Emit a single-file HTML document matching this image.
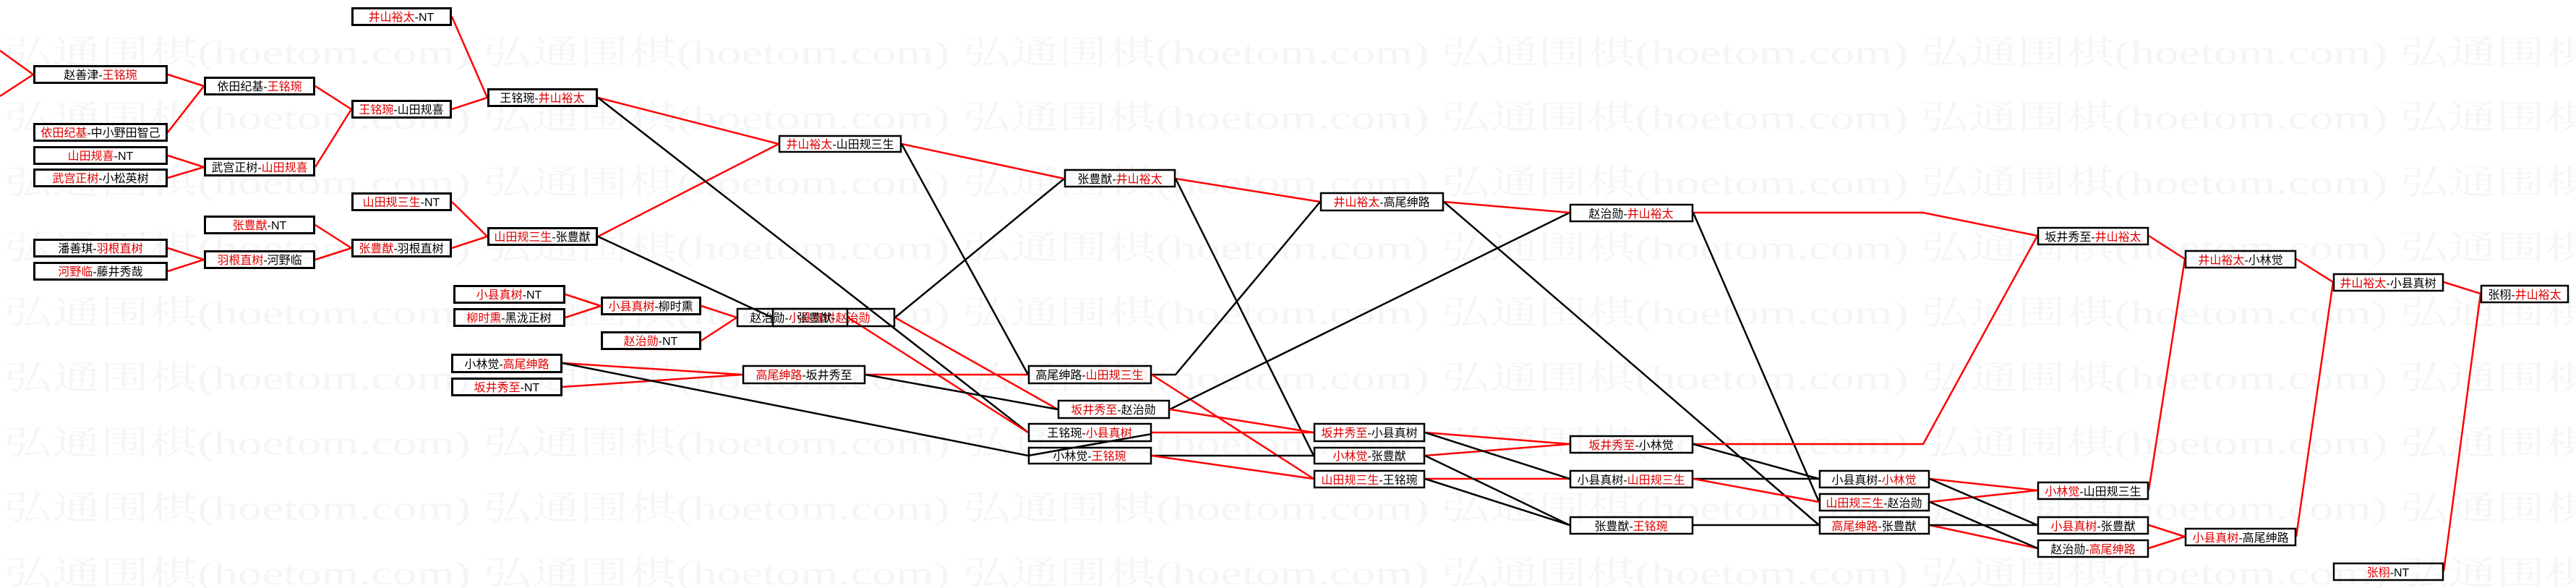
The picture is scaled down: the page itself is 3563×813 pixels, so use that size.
<!DOCTYPE html>
<html><head><meta charset="utf-8"><style>
html,body{margin:0;padding:0;background:#fff;}
svg{display:block;}
.t{font-family:"Liberation Sans","Noto Sans CJK SC","WenQuanYi Zen Hei",sans-serif;font-size:16px;fill:#000;text-anchor:middle;}
.w text{font-family:"Liberation Serif","Noto Serif CJK SC",serif;font-size:46px;fill:#f4f6f6;}
.r{fill:#e00000;}
rect{fill:none;stroke:#000;}
.a rect{stroke-width:3;}
.b rect{stroke-width:2.5;}
.lr{stroke:#f00;stroke-width:2.5;fill:none;}
.lk{stroke:#000;stroke-width:2.5;fill:none;}
</style></head><body>
<svg width="3563" height="813" viewBox="0 0 3563 813" xmlns="http://www.w3.org/2000/svg">
<g class="w">
<text x="5" y="88" textLength="3960" lengthAdjust="spacingAndGlyphs">弘通围棋(hoetom.com) 弘通围棋(hoetom.com) 弘通围棋(hoetom.com) 弘通围棋(hoetom.com) 弘通围棋(hoetom.com) 弘通围棋(hoetom.com)</text>
<text x="5" y="178" textLength="3960" lengthAdjust="spacingAndGlyphs">弘通围棋(hoetom.com) 弘通围棋(hoetom.com) 弘通围棋(hoetom.com) 弘通围棋(hoetom.com) 弘通围棋(hoetom.com) 弘通围棋(hoetom.com)</text>
<text x="5" y="268" textLength="3960" lengthAdjust="spacingAndGlyphs">弘通围棋(hoetom.com) 弘通围棋(hoetom.com) 弘通围棋(hoetom.com) 弘通围棋(hoetom.com) 弘通围棋(hoetom.com) 弘通围棋(hoetom.com)</text>
<text x="5" y="358" textLength="3960" lengthAdjust="spacingAndGlyphs">弘通围棋(hoetom.com) 弘通围棋(hoetom.com) 弘通围棋(hoetom.com) 弘通围棋(hoetom.com) 弘通围棋(hoetom.com) 弘通围棋(hoetom.com)</text>
<text x="5" y="448" textLength="3960" lengthAdjust="spacingAndGlyphs">弘通围棋(hoetom.com) 弘通围棋(hoetom.com) 弘通围棋(hoetom.com) 弘通围棋(hoetom.com) 弘通围棋(hoetom.com) 弘通围棋(hoetom.com)</text>
<text x="5" y="538" textLength="3960" lengthAdjust="spacingAndGlyphs">弘通围棋(hoetom.com) 弘通围棋(hoetom.com) 弘通围棋(hoetom.com) 弘通围棋(hoetom.com) 弘通围棋(hoetom.com) 弘通围棋(hoetom.com)</text>
<text x="5" y="628" textLength="3960" lengthAdjust="spacingAndGlyphs">弘通围棋(hoetom.com) 弘通围棋(hoetom.com) 弘通围棋(hoetom.com) 弘通围棋(hoetom.com) 弘通围棋(hoetom.com) 弘通围棋(hoetom.com)</text>
<text x="5" y="718" textLength="3960" lengthAdjust="spacingAndGlyphs">弘通围棋(hoetom.com) 弘通围棋(hoetom.com) 弘通围棋(hoetom.com) 弘通围棋(hoetom.com) 弘通围棋(hoetom.com) 弘通围棋(hoetom.com)</text>
<text x="5" y="808" textLength="3960" lengthAdjust="spacingAndGlyphs">弘通围棋(hoetom.com) 弘通围棋(hoetom.com) 弘通围棋(hoetom.com) 弘通围棋(hoetom.com) 弘通围棋(hoetom.com) 弘通围棋(hoetom.com)</text>
</g>

<g>
<path class="lr" d="M0,70 L46,103 M0,133 L46,103"/>
<path class="lr" d="M232,103 L282,119 M232,183 L282,119 M232,215 L282,231 M232,246 L282,231"/>
<path class="lr" d="M436,119 L486,151 M436,231 L486,151 M625,23 L674,135 M625,151 L674,135"/>
<path class="lr" d="M625,279 L674,327 M625,343 L674,327 M436,311 L486,343 M436,359 L486,343 M232,343 L282,359 M232,375 L282,359"/>
<path class="lr" d="M782,407 L831,423 M782,439 L831,423 M970,423 L1019,439 M970,471 L1019,439"/>
<path class="lr" d="M778,502 L1027,518 M778,535 L1027,518"/>
<path class="lk" d="M778,502 L1422,630"/>
<path class="lr" d="M827,135 L1077,199 M827,327 L1077,199"/>
<path class="lk" d="M827,135 L1422,598 M827,327 L1068,439"/>
<path class="lr" d="M1173,439 L1422,598 M1238,439 L1463,566"/>
<path class="lk" d="M1238,439 L1472,247"/>
<path class="lr" d="M1197,518 L1422,518"/>
<path class="lk" d="M1197,518 L1463,566"/>
<path class="lr" d="M1247,199 L1472,247"/>
<path class="lk" d="M1247,199 L1422,518"/>
<path class="lr" d="M1626,247 L1826,279"/>
<path class="lk" d="M1626,247 L1817,630"/>
<path class="lk" d="M1593,518 L1626,518 L1826,279"/>
<path class="lr" d="M1593,518 L1817,662"/>
<path class="lk" d="M1618,566 L2171,294"/>
<path class="lr" d="M1618,566 L1817,598 M1593,598 L1817,598"/>
<path class="lk" d="M1422,630 L1593,600"/>
<path class="lk" d="M1593,630 L1817,630"/>
<path class="lr" d="M1593,630 L1817,662"/>
<path class="lr" d="M1997,279 L2171,294"/>
<path class="lk" d="M1997,279 L2516,726"/>
<path class="lr" d="M1971,598 L2171,614 M1971,630 L2171,614 M1971,662 L2171,662"/>
<path class="lk" d="M1971,598 L2171,662 M1971,630 L2171,726 M1971,662 L2171,726"/>
<path class="lr" d="M2342,294 L2660,294 L2818,326"/>
<path class="lk" d="M2342,294 L2516,694"/>
<path class="lr" d="M2342,614 L2660,614 L2818,326"/>
<path class="lk" d="M2342,614 L2516,662 M2342,662 L2516,662 M2342,726 L2516,726"/>
<path class="lr" d="M2342,662 L2516,694"/>
<path class="lr" d="M2669,662 L2818,678 M2669,694 L2818,678 M2669,726 L2818,758"/>
<path class="lk" d="M2669,662 L2818,726 M2669,694 L2818,758 M2669,726 L2818,726"/>
<path class="lr" d="M2972,326 L3022,358 M2972,678 L3022,358 M2972,726 L3022,742 M2972,758 L3022,742"/>
<path class="lr" d="M3176,358 L3227,390 M3176,742 L3227,390 M3380,390 L3431,406 M3380,790 L3431,406"/>
</g>

<g class="a">
<rect x="47.5" y="91.5" width="183" height="23"/><text class="t" x="139" y="109">赵善津-<tspan class="r">王铭琬</tspan></text>
<rect x="47.5" y="171.5" width="183" height="23"/><text class="t" x="139" y="189"><tspan class="r">依田纪基</tspan>-中小野田智己</text>
<rect x="47.5" y="203.5" width="183" height="23"/><text class="t" x="139" y="221"><tspan class="r">山田规喜</tspan>-NT</text>
<rect x="47.5" y="234.5" width="183" height="23"/><text class="t" x="139" y="252"><tspan class="r">武宫正树</tspan>-小松英树</text>
<rect x="283.5" y="107.5" width="151" height="23"/><text class="t" x="359" y="125">依田纪基-<tspan class="r">王铭琬</tspan></text>
<rect x="283.5" y="219.5" width="151" height="23"/><text class="t" x="359" y="237">武宫正树-<tspan class="r">山田规喜</tspan></text>
<rect x="487.5" y="11.5" width="136" height="23"/><text class="t" x="555" y="29"><tspan class="r">井山裕太</tspan>-NT</text>
<rect x="487.5" y="139.5" width="136" height="23"/><text class="t" x="555" y="157"><tspan class="r">王铭琬</tspan>-山田规喜</text>
<rect x="675.5" y="123.5" width="150" height="23"/><text class="t" x="750" y="141">王铭琬-<tspan class="r">井山裕太</tspan></text>
<rect x="487.5" y="267.5" width="136" height="23"/><text class="t" x="555" y="285"><tspan class="r">山田规三生</tspan>-NT</text>
<rect x="675.5" y="315.5" width="150" height="23"/><text class="t" x="750" y="333"><tspan class="r">山田规三生</tspan>-张豊猷</text>
<rect x="283.5" y="299.5" width="151" height="23"/><text class="t" x="359" y="317"><tspan class="r">张豊猷</tspan>-NT</text>
<rect x="487.5" y="331.5" width="136" height="23"/><text class="t" x="555" y="349"><tspan class="r">张豊猷</tspan>-羽根直树</text>
<rect x="283.5" y="347.5" width="151" height="23"/><text class="t" x="359" y="365"><tspan class="r">羽根直树</tspan>-河野临</text>
<rect x="47.5" y="331.5" width="183" height="23"/><text class="t" x="139" y="349">潘善琪-<tspan class="r">羽根直树</tspan></text>
<rect x="47.5" y="363.5" width="183" height="23"/><text class="t" x="139" y="381"><tspan class="r">河野临</tspan>-藤井秀哉</text>
<rect x="628.5" y="395.5" width="152" height="23"/><text class="t" x="704" y="413"><tspan class="r">小县真树</tspan>-NT</text>
<rect x="628.5" y="427.5" width="152" height="23"/><text class="t" x="704" y="445"><tspan class="r">柳时熏</tspan>-黑泷正树</text>
<rect x="832.5" y="411.5" width="136" height="23"/><text class="t" x="900" y="429"><tspan class="r">小县真树</tspan>-柳时熏</text>
<rect x="832.5" y="459.5" width="136" height="23"/><text class="t" x="900" y="477"><tspan class="r">赵治勋</tspan>-NT</text>
<rect x="625.5" y="490.5" width="151" height="24"/><text class="t" x="701" y="509">小林觉-<tspan class="r">高尾绅路</tspan></text>
<rect x="625.5" y="523.5" width="151" height="23"/><text class="t" x="701" y="541"><tspan class="r">坂井秀至</tspan>-NT</text>
</g>
<g class="b">
<rect x="1020" y="427" width="152" height="24"/><text class="t" x="1096" y="445">赵治勋-<tspan class="r">小县真树</tspan></text>
<rect x="1069" y="427" width="168" height="24"/><text class="t" x="1153" y="445">张豊猷-<tspan class="r">赵治勋</tspan></text>
<rect x="1078" y="188" width="168" height="22"/><text class="t" x="1162" y="205"><tspan class="r">井山裕太</tspan>-山田规三生</text>
<rect x="1473" y="235" width="152" height="23"/><text class="t" x="1549" y="253">张豊猷-<tspan class="r">井山裕太</tspan></text>
<rect x="1028" y="506" width="168" height="24"/><text class="t" x="1112" y="524"><tspan class="r">高尾绅路</tspan>-坂井秀至</text>
<rect x="1423" y="506" width="169" height="24"/><text class="t" x="1507" y="524">高尾绅路-<tspan class="r">山田规三生</tspan></text>
<rect x="1464" y="554" width="153" height="24"/><text class="t" x="1540" y="572"><tspan class="r">坂井秀至</tspan>-赵治勋</text>
<rect x="1423" y="586" width="169" height="24"/><text class="t" x="1507" y="604">王铭琬-<tspan class="r">小县真树</tspan></text>
<rect x="1423" y="619" width="169" height="22"/><text class="t" x="1507" y="636">小林觉-<tspan class="r">王铭琬</tspan></text>
<rect x="1827" y="267" width="169" height="24"/><text class="t" x="1911" y="285"><tspan class="r">井山裕太</tspan>-高尾绅路</text>
<rect x="2172" y="283" width="169" height="23"/><text class="t" x="2256" y="301">赵治勋-<tspan class="r">井山裕太</tspan></text>
<rect x="1818" y="586" width="152" height="24"/><text class="t" x="1894" y="604"><tspan class="r">坂井秀至</tspan>-小县真树</text>
<rect x="1818" y="619" width="152" height="22"/><text class="t" x="1894" y="636"><tspan class="r">小林觉</tspan>-张豊猷</text>
<rect x="1818" y="651" width="152" height="23"/><text class="t" x="1894" y="669"><tspan class="r">山田规三生</tspan>-王铭琬</text>
<rect x="2172" y="603" width="169" height="23"/><text class="t" x="2256" y="621"><tspan class="r">坂井秀至</tspan>-小林觉</text>
<rect x="2172" y="651" width="169" height="23"/><text class="t" x="2256" y="669">小县真树-<tspan class="r">山田规三生</tspan></text>
<rect x="2172" y="715" width="169" height="23"/><text class="t" x="2256" y="733">张豊猷-<tspan class="r">王铭琬</tspan></text>
<rect x="2517" y="651" width="151" height="23"/><text class="t" x="2592" y="669">小县真树-<tspan class="r">小林觉</tspan></text>
<rect x="2517" y="683" width="151" height="23"/><text class="t" x="2592" y="701"><tspan class="r">山田规三生</tspan>-赵治勋</text>
<rect x="2517" y="715" width="151" height="23"/><text class="t" x="2592" y="733"><tspan class="r">高尾绅路</tspan>-张豊猷</text>
<rect x="2819" y="315" width="152" height="23"/><text class="t" x="2895" y="333">坂井秀至-<tspan class="r">井山裕太</tspan></text>
<rect x="2819" y="667" width="152" height="23"/><text class="t" x="2895" y="685"><tspan class="r">小林觉</tspan>-山田规三生</text>
<rect x="2819" y="715" width="152" height="23"/><text class="t" x="2895" y="733"><tspan class="r">小县真树</tspan>-张豊猷</text>
<rect x="2819" y="747" width="152" height="23"/><text class="t" x="2895" y="765">赵治勋-<tspan class="r">高尾绅路</tspan></text>
<rect x="3023" y="347" width="152" height="23"/><text class="t" x="3099" y="365"><tspan class="r">井山裕太</tspan>-小林觉</text>
<rect x="3023" y="731" width="152" height="23"/><text class="t" x="3099" y="749"><tspan class="r">小县真树</tspan>-高尾绅路</text>
<rect x="3228" y="379" width="151" height="23"/><text class="t" x="3303" y="397"><tspan class="r">井山裕太</tspan>-小县真树</text>
<rect x="3228" y="779" width="151" height="23"/><text class="t" x="3303" y="797"><tspan class="r">张栩</tspan>-NT</text>
<rect x="3432" y="395" width="120" height="23"/><text class="t" x="3492" y="413">张栩-<tspan class="r">井山裕太</tspan></text>
</g>
</svg>
</body></html>
